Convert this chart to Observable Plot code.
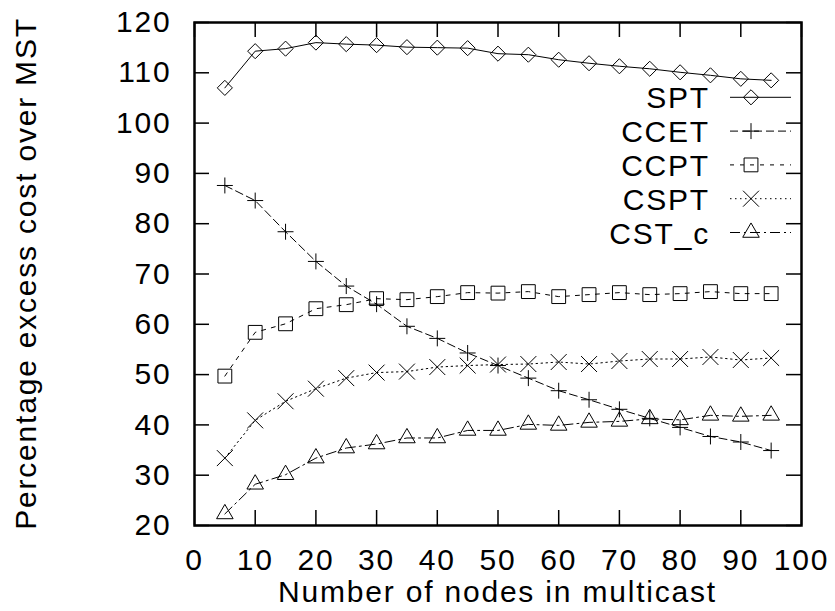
<!DOCTYPE html>
<html>
<head>
<meta charset="utf-8">
<script src="https://cdn.jsdelivr.net/npm/d3@7"></script>
<script src="https://cdn.jsdelivr.net/npm/@observablehq/plot@0.6"></script>
<style>
  html, body { margin: 0; padding: 0; background: #fff; }
  svg text { letter-spacing: 1.8px; }
</style>
</head>
<body>
<div id="chart"></div>
<script>
const nodes = [5,10,15,20,25,30,35,40,45,50,55,60,65,70,75,80,85,90,95];
const spt  = [107,114.3,114.8,116,115.7,115.5,115.1,115,114.9,113.8,113.6,112.6,111.9,111.3,110.8,110.1,109.5,108.8,108.5];
const ccet = [87.6,84.6,78.4,72.5,67.6,64.0,59.6,57.2,54.3,51.8,49.3,46.8,45.0,43.1,41.3,39.5,37.7,36.6,34.9];
const ccpt = [49.7,58.4,60.1,63.1,63.9,65.1,64.9,65.5,66.3,66.2,66.5,65.5,65.9,66.3,65.9,66.1,66.5,66.1,66.1];
const cspt = [33.4,40.9,44.7,47.2,49.3,50.4,50.6,51.5,51.8,52.0,52.1,52.5,52.1,52.7,53.1,53.1,53.5,52.9,53.3];
const cstc = [22.3,28.2,30.1,33.4,35.4,36.2,37.4,37.4,38.9,38.9,40.1,39.9,40.5,40.7,41.2,41.0,41.9,41.7,41.9];
const seriesNames = ["SPT","CCET","CCPT","CSPT","CST_c"];
const xTicks = [0,10,20,30,40,50,60,70,80,90,100];
const yTicks = [20,30,40,50,60,70,80,90,100,110,120];
const xLabel = "Number of nodes in multicast";
const yLabel = "Percentage excess cost over MST";

const values = [spt, ccet, ccpt, cspt, cstc];
const styles = [
  {dash: null, symbol: "diamond2", d3sym: d3.symbolDiamond2, r: 6.8},
  {dash: "8,4", symbol: "plus", d3sym: d3.symbolPlus, r: 5.2},
  {dash: "4,6", symbol: "square2", d3sym: d3.symbolSquare2, r: 8.8},
  {dash: "1.5,3.5", symbol: "times", d3sym: d3.symbolTimes, r: 7.3},
  {dash: "10,4,2,4", symbol: "triangle2", d3sym: d3.symbolTriangle2, r: 7.9}
];

const W = 835, H = 611;
const mL = 194, mR = 34, mT = 22, mB = 86;
const innerH = H - mT - mB, innerW = W - mL - mR;
const tickLen = 15;

const marks = [];
values.forEach((vals, i) => {
  const data = nodes.map((x, j) => ({x, y: vals[j], s: seriesNames[i]}));
  const st = styles[i];
  marks.push(Plot.line(data, {x: "x", y: "y", stroke: "black", strokeWidth: 1, strokeDasharray: st.dash || undefined}));
  marks.push(Plot.dot(data, {x: "x", y: "y", symbol: st.symbol, r: st.r, stroke: "black", strokeWidth: 1, fill: "none"}));
});

const chart = Plot.plot({
  width: W, height: H,
  marginLeft: mL, marginRight: mR, marginTop: mT, marginBottom: mB,
  style: {fontFamily: "'Liberation Sans', Arial, sans-serif", fontSize: "30px", background: "#fff", color: "#000"},
  x: {domain: [0, 100]},
  y: {domain: [20, 120]},
  marks: [
    Plot.ruleX(xTicks, {x: d => d, insetTop: innerH - tickLen, stroke: "black", strokeWidth: 1.5}),
    Plot.ruleX(xTicks, {x: d => d, insetBottom: innerH - tickLen, stroke: "black", strokeWidth: 1.5}),
    Plot.ruleY(yTicks, {y: d => d, insetRight: innerW - tickLen, stroke: "black", strokeWidth: 1.5}),
    Plot.ruleY(yTicks, {y: d => d, insetLeft: innerW - tickLen, stroke: "black", strokeWidth: 1.5}),
    Plot.axisX(xTicks, {tickSize: 0, tickPadding: 23, label: null, fill: "black"}),
    Plot.axisY(yTicks, {tickSize: 0, tickPadding: 23, label: null, fill: "black"}),
    ...marks,
    Plot.frame({stroke: "black", strokeWidth: 2.5})
  ]
});
document.getElementById("chart").appendChild(chart);

const svg = d3.select(chart);
const font = "'Liberation Sans', Arial, sans-serif";
svg.append("text")
  .attr("x", mL + innerW / 2).attr("y", 602)
  .attr("text-anchor", "middle")
  .attr("font-family", font).attr("font-size", 30).attr("fill", "black")
  .text(xLabel);
svg.append("text")
  .attr("transform", `translate(36,${mT + innerH / 2}) rotate(-90)`)
  .attr("text-anchor", "middle")
  .attr("font-family", font).attr("font-size", 30).attr("fill", "black")
  .text(yLabel);

const legend = svg.append("g");
const rowY0 = 97.3, rowStep = 33.8;
seriesNames.forEach((name, i) => {
  const y = rowY0 + i * rowStep;
  const st = styles[i];
  legend.append("text")
    .attr("x", 710).attr("y", y + 11)
    .attr("text-anchor", "end")
    .attr("font-family", font).attr("font-size", 30).attr("fill", "black")
    .text(name);
  legend.append("line")
    .attr("x1", 730).attr("x2", 791).attr("y1", y).attr("y2", y)
    .attr("stroke", "black").attr("stroke-width", 1)
    .attr("stroke-dasharray", st.dash || null);
  legend.append("path")
    .attr("transform", `translate(751,${y})`)
    .attr("d", d3.symbol(st.d3sym, Math.PI * st.r * st.r)())
    .attr("fill", "none").attr("stroke", "black").attr("stroke-width", 1);
});
</script>
</body>
</html>
